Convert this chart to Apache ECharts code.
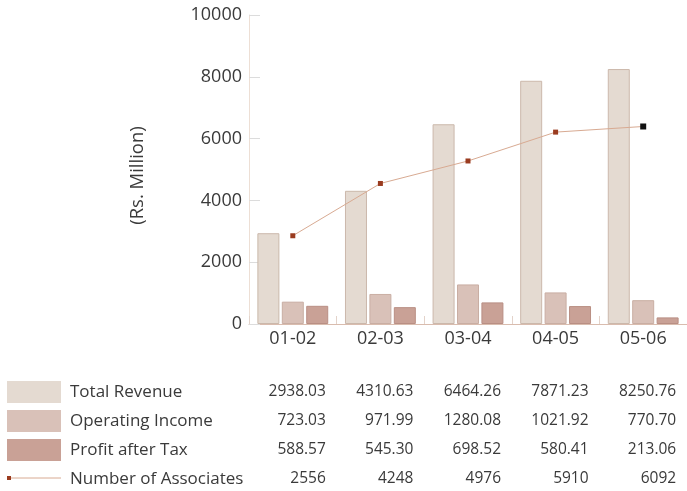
<!DOCTYPE html>
<html>
<head>
<meta charset="utf-8">
<script src="https://cdn.jsdelivr.net/npm/echarts@6/dist/echarts.min.js"></script>
<style>
  html, body { margin: 0; padding: 0; background: #fff; }
  #chart { width: 687px; height: 491px; }
</style>
</head>
<body>
<div id="chart"></div>
<script>
// Financial years on the category axis
const categories = ['01-02', '02-03', '03-04', '04-05', '05-06'];

// Rs. Million
const totalRevenue = [2938.03, 4310.63, 6464.26, 7871.23, 8250.76];
const operatingIncome = [723.03, 971.99, 1280.08, 1021.92, 770.70];
const profitAfterTax = [588.57, 545.30, 698.52, 580.41, 213.06];

// Head count, plotted against its own hidden scale
const associates = [2556, 4248, 4976, 5910, 6092];

const seriesNames = ['Total Revenue', 'Operating Income', 'Profit after Tax', 'Number of Associates'];
const barColors = ['#e4dad1', '#d9c1b8', '#c9a196'];
const barBorders = ['#cbb8ab', '#c9aea3', '#b98f84'];
const lineColor = '#d8aa92';
const markerColor = '#9a3b1f';

const FONT = '"Open Sans", sans-serif';
const TEXT = '#3a3a3a';

const chart = echarts.init(document.getElementById('chart'), null, { renderer: 'canvas' });

const GRID = { left: 249, top: 15, right: 0, bottom: 167 };

function barSeries(i, data) {
  return {
    name: seriesNames[i],
    type: 'bar',
    data: data,
    barWidth: 22,
    barGap: '11%',
    itemStyle: { color: barColors[i], borderColor: barBorders[i], borderWidth: 1 },
    emphasis: { disabled: true }
  };
}

chart.setOption({
  animation: false,
  backgroundColor: '#fff',
  grid: GRID,
  legend: {
    orient: 'vertical',
    left: 7,
    top: 381,
    padding: 0,
    itemWidth: 54,
    itemHeight: 22,
    itemGap: 7,
    selectedMode: false,
    textStyle: { fontFamily: FONT, fontSize: 17, color: TEXT, padding: [0, 0, 0, 4] },
    data: [
      { name: seriesNames[0], icon: 'rect', itemStyle: { color: barColors[0], borderWidth: 0 } },
      { name: seriesNames[1], icon: 'rect', itemStyle: { color: barColors[1], borderWidth: 0 } },
      { name: seriesNames[2], icon: 'rect', itemStyle: { color: barColors[2], borderWidth: 0 } },
      { name: seriesNames[3], icon: 'rect', itemStyle: { opacity: 0 } }
    ]
  },
  xAxis: {
    type: 'category',
    data: categories,
    axisLine: { lineStyle: { color: '#d9bcae', width: 1 } },
    axisTick: { show: true, inside: true, length: 8, lineStyle: { color: '#e3d3ca' } },
    axisLabel: { fontFamily: FONT, fontSize: 18, color: TEXT, margin: 6 }
  },
  yAxis: [
    {
      type: 'value',
      min: 0,
      max: 10000,
      interval: 2000,
      name: '(Rs. Million)',
      nameLocation: 'middle',
      nameGap: 102,
      nameRotate: 90,
      nameTextStyle: { fontFamily: FONT, fontSize: 18.5, color: TEXT, padding: [0, 12, 0, 0] },
      axisLine: { show: true, lineStyle: { color: '#eddfd5' } },
      axisTick: { show: true, inside: true, length: 11, lineStyle: { color: '#dcdcdc' } },
      splitLine: { show: false },
      axisLabel: { fontFamily: FONT, fontSize: 18, color: TEXT, margin: 7, formatter: v => String(v) }
    },
    {
      type: 'value',
      min: -300,
      max: 9700,
      show: false,
      splitLine: { show: false }
    }
  ],
  series: [
    barSeries(0, totalRevenue),
    barSeries(1, operatingIncome),
    barSeries(2, profitAfterTax),
    {
      name: seriesNames[3],
      type: 'line',
      yAxisIndex: 1,
      data: associates.map((v, i) => i === associates.length - 1
        ? { value: v, itemStyle: { color: '#111' }, symbolSize: 6 }
        : v),
      symbol: 'rect',
      symbolSize: 5,
      showAllSymbol: true,
      lineStyle: { color: lineColor, width: 1 },
      itemStyle: { color: markerColor },
      emphasis: { disabled: true },
      z: 5
    }
  ]
});

// Data table under the chart: one column per category, right-aligned
const rows = [
  totalRevenue.map(v => v.toFixed(2)),
  operatingIncome.map(v => v.toFixed(2)),
  profitAfterTax.map(v => v.toFixed(2)),
  associates.map(v => String(v))
];
const rowCenters = [392, 421, 450, 479];
const elements = [];
rows.forEach((row, r) => {
  row.forEach((txt, c) => {
    const cx = chart.convertToPixel({ xAxisIndex: 0 }, c);
    elements.push({
      type: 'text',
      x: cx + 33,
      y: rowCenters[r],
      silent: true,
      style: {
        text: txt,
        textAlign: 'right',
        textVerticalAlign: 'middle',
        fontFamily: FONT,
        fontSize: 15.5,
        fill: TEXT
      }
    });
  });
});
// Key for the associates line
elements.push({
  type: 'line',
  silent: true,
  shape: { x1: 7, y1: 478, x2: 61, y2: 478 },
  style: { stroke: lineColor, lineWidth: 1 }
});
elements.push({
  type: 'rect',
  silent: true,
  shape: { x: 7, y: 476, width: 4, height: 4 },
  style: { fill: markerColor }
});
chart.setOption({ graphic: { elements: elements } });
</script>
</body>
</html>
